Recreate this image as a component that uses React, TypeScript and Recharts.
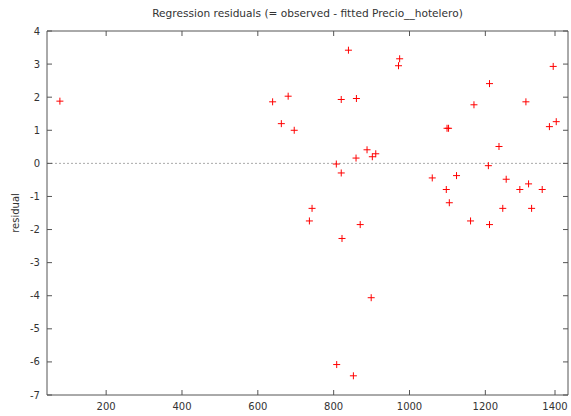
import React from "react";
import {
  ScatterChart,
  Scatter,
  XAxis,
  YAxis,
  ReferenceLine,
  Label,
} from "recharts";

// fitted values (x) and residuals (y)
const fittedX = [
  78, 639, 662, 680, 696, 736, 743, 807, 808, 820, 820, 822, 839, 852, 859,
  860, 870, 888, 899, 902, 911, 971, 974, 1060, 1097, 1099, 1103, 1105, 1124,
  1161, 1170, 1208, 1211, 1211, 1236, 1246, 1255, 1291, 1307, 1314, 1322,
  1350, 1369, 1379, 1387,
];
const residuals = [
  1.88, 1.86, 1.2, 2.03, 1.0, -1.74, -1.36, -0.02, -6.08, 1.93, -0.29, -2.27,
  3.42, -6.42, 0.16, 1.96, -1.85, 0.41, -4.06, 0.2, 0.29, 2.95, 3.16, -0.44,
  -0.79, 1.06, 1.06, -1.19, -0.37, -1.74, 1.77, -0.07, 2.41, -1.85, 0.51,
  -1.36, -0.48, -0.79, 1.86, -0.62, -1.36, -0.79, 1.11, 2.93, 1.26,
];
const xTicks = [200, 400, 600, 800, 1000, 1200, 1400];
const yTicks = [-7, -6, -5, -4, -3, -2, -1, 0, 1, 2, 3, 4];

const data = fittedX.map((x, i) => ({ x, y: residuals[i] }));

const FONT = "DejaVu Sans, Verdana, sans-serif";
const AXIS = "#555";
const TEXT = "#333";
const TICK = 5;

const Cross = (props: any) => {
  const { cx, cy } = props;
  if (cx == null || cy == null) return null;
  return (
    <g stroke="#ff0000" strokeWidth={1}>
      <line x1={cx - 3.5} y1={cy} x2={cx + 3.5} y2={cy} />
      <line x1={cx} y1={cy - 3.5} x2={cx} y2={cy + 3.5} />
    </g>
  );
};

const BottomTick = ({ x, y, payload }: any) => (
  <g>
    <line x1={x} y1={y} x2={x} y2={y - TICK} stroke={AXIS} />
    <text x={x} y={y + 15} textAnchor="middle" fill={TEXT} fontSize={10} fontFamily={FONT}>
      {payload.value}
    </text>
  </g>
);

const TopTick = ({ x, y }: any) => (
  <line x1={x} y1={y} x2={x} y2={y + TICK} stroke={AXIS} />
);

const LeftTick = ({ x, y, payload }: any) => (
  <g>
    <line x1={x} y1={y} x2={x + TICK} y2={y} stroke={AXIS} />
    <text x={x - 7} y={y + 3.5} textAnchor="end" fill={TEXT} fontSize={10} fontFamily={FONT}>
      {payload.value}
    </text>
  </g>
);

const RightTick = ({ x, y }: any) => (
  <line x1={x} y1={y} x2={x - TICK} y2={y} stroke={AXIS} />
);

export default function App() {
  return (
    <div style={{ position: "absolute", left: 0, top: 0, width: 571, height: 416, background: "#fff" }}>
      <div
        style={{
          position: "absolute",
          left: 47,
          width: 521,
          top: 6,
          textAlign: "center",
          fontFamily: FONT,
          fontSize: 10.6,
          color: TEXT,
          lineHeight: "14px",
          whiteSpace: "nowrap",
        }}
      >
        Regression residuals (= observed - fitted Precio__hotelero)
      </div>
      <ScatterChart width={571} height={416} margin={{ top: 30, right: 2, bottom: 0, left: 0 }}>
        <XAxis
          xAxisId="bottom"
          dataKey="x"
          type="number"
          domain={[44, 1418]}
          allowDataOverflow
          ticks={xTicks}
          height={21}
          tickSize={0}
          tickMargin={0}
          tickLine={false}
          axisLine={{ stroke: AXIS }}
          tick={<BottomTick />}
        />
        <XAxis
          xAxisId="top"
          orientation="top"
          dataKey="x"
          type="number"
          domain={[44, 1418]}
          allowDataOverflow
          ticks={xTicks}
          height={1}
          tickSize={0}
          tickMargin={0}
          tickLine={false}
          axisLine={{ stroke: AXIS }}
          tick={<TopTick />}
        />
        <YAxis
          yAxisId="left"
          dataKey="y"
          type="number"
          domain={[-7, 4]}
          allowDataOverflow
          ticks={yTicks}
          width={47}
          tickSize={0}
          tickMargin={0}
          tickLine={false}
          axisLine={{ stroke: AXIS }}
          tick={<LeftTick />}
        >
          <Label
            content={({ viewBox }: any) => {
              const cx = viewBox.x + 15;
              const cy = viewBox.y + viewBox.height / 2;
              return (
                <text
                  x={cx}
                  y={cy}
                  transform={`rotate(-90 ${cx} ${cy})`}
                  textAnchor="middle"
                  dominantBaseline="central"
                  fill={TEXT}
                  fontSize={10}
                  fontFamily={FONT}
                >
                  residual
                </text>
              );
            }}
          />
        </YAxis>
        <YAxis
          yAxisId="right"
          orientation="right"
          dataKey="y"
          type="number"
          domain={[-7, 4]}
          allowDataOverflow
          ticks={yTicks}
          width={1}
          tickSize={0}
          tickMargin={0}
          tickLine={false}
          axisLine={{ stroke: AXIS }}
          tick={<RightTick />}
        />
        <ReferenceLine
          xAxisId="bottom"
          yAxisId="left"
          y={0}
          stroke="#aaa"
          strokeDasharray="2 2"
        />
        {/* same points on the mirrored axes, drawn invisibly so the frame renders */}
        <Scatter
          xAxisId="top"
          yAxisId="right"
          data={data}
          shape={() => null}
          isAnimationActive={false}
        />
        <Scatter
          xAxisId="bottom"
          yAxisId="left"
          data={data}
          shape={<Cross />}
          isAnimationActive={false}
        />
      </ScatterChart>
    </div>
  );
}
